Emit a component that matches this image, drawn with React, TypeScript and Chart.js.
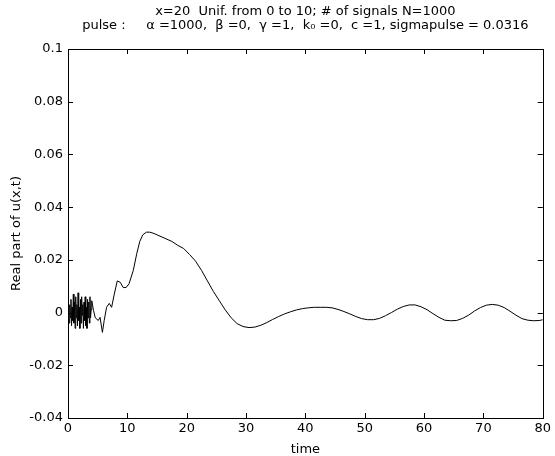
import React, { useEffect, useRef } from "react";
import { Chart, registerables } from "chart.js";

Chart.register(...registerables);

const titleLines = [
  "x=20  Unif. from 0 to 10; # of signals N=1000",
  "pulse :     \u03B1 =1000,  \u03B2 =0,  \u03B3 =1,  k\u2080 =0,  c =1, sigmapulse = 0.0316",
];
const xLabel = "time";
const yLabel = "Real part of u(x,t)";

const xTicks = [0, 10, 20, 30, 40, 50, 60, 70, 80];
const yTicks = [-0.04, -0.02, 0, 0.02, 0.04, 0.06, 0.08, 0.1];

// noisy start (t = 0 .. 3.9)
const noiseTime = [
  0, 0.1, 0.2, 0.3, 0.4, 0.5, 0.6, 0.7, 0.8, 0.9, 1.0, 1.1, 1.2, 1.3, 1.4, 1.5, 1.6, 1.7, 1.8, 1.9,
  2.0, 2.1, 2.2, 2.3, 2.4, 2.5, 2.6, 2.7, 2.8, 2.9, 3.0, 3.1, 3.2, 3.3, 3.4, 3.5, 3.6, 3.7, 3.8, 3.9,
];
const noiseValue = [
  0, 0.001, -0.004, 0.003, -0.002, 0.005, -0.005, 0.002, -0.003, 0.007, -0.004, 0.004, -0.006, 0.006,
  -0.002, 0.003, -0.005, 0.0075, -0.003, 0.002, -0.006, 0.005, -0.004, 0.006, -0.001, 0.003, -0.006,
  0.004, -0.003, 0.006, -0.005, 0.002, -0.006, 0.005, -0.002, 0.004, -0.004, 0.006, -0.002, 0.001,
];

// smooth part (t = 4 .. 80)
const smoothTime = [
  4.0, 4.3, 4.6, 5.1, 5.4, 5.8, 6.1, 6.5, 6.95, 7.35, 7.8, 8.3, 8.8, 9.3, 9.8, 10.3, 11.0, 11.6, 12.1,
  12.6, 13.2, 13.8, 14.5, 15.5, 16.5, 17.5, 18.5, 19.5, 20.5, 21.5, 22.5, 23.5, 24.5, 25.5, 26.5, 27.5,
  28.5, 29.5, 30.5, 31.5, 32.5, 33.5, 34.5, 35.5, 36.5, 37.5, 38.5, 39.5, 40.5, 41.5, 42.5, 43.5, 44.5,
  45.5, 46.5, 47.5, 48.5, 49.5, 50.5, 51.5, 52.5, 53.5, 54.5, 55.5, 56.5, 57.5, 58.5, 59.5, 60.5, 61.5,
  62.5, 63.5, 64.5, 65.5, 66.5, 67.5, 68.5, 69.5, 70.5, 71.5, 72.5, 73.5, 74.5, 75.5, 76.5, 77.5, 78.5,
  79.5, 80,
];
const smoothValue = [
  0.0045, 0.0008, -0.002, -0.003, -0.0018, -0.0075, -0.003, 0.002, 0.0035, 0.002, 0.007, 0.012, 0.0115,
  0.0095, 0.0095, 0.011, 0.016, 0.0225, 0.027, 0.0295, 0.0305, 0.0305, 0.03, 0.029, 0.028, 0.027,
  0.0255, 0.0243, 0.022, 0.0195, 0.016, 0.012, 0.008, 0.0045, 0.001, -0.002, -0.0042, -0.0053, -0.0057,
  -0.0055, -0.0048, -0.0038, -0.0026, -0.0015, -0.0005, 0.0003, 0.001, 0.0015, 0.0018, 0.002, 0.002,
  0.002, 0.0018, 0.0012, 0.0004, -0.0005, -0.0015, -0.0023, -0.0027, -0.0027, -0.0022, -0.0012, 0,
  0.0013, 0.0023, 0.0029, 0.0029, 0.0022, 0.0011, -0.0004, -0.0018, -0.0029, -0.0031, -0.003, -0.0022,
  -0.001, 0.0006, 0.0019, 0.0028, 0.0031, 0.0028, 0.0019, 0.0005, -0.001, -0.0023, -0.0029, -0.0031,
  -0.003, -0.0027,
];

const FONT = "'DejaVu Sans', 'Liberation Sans', Arial, sans-serif";
const FS = 13;

const insideTicks = {
  id: "insideTicks",
  afterDraw(chart: any) {
    const { ctx, chartArea } = chart;
    const { left, right, top, bottom } = chartArea;
    const len = 5;
    ctx.save();
    ctx.strokeStyle = "#000";
    ctx.lineWidth = 1;
    ctx.beginPath();
    const xs = chart.scales.x;
    xTicks.forEach((v) => {
      const p = Math.round(xs.getPixelForValue(v)) + 0.5;
      ctx.moveTo(p, bottom);
      ctx.lineTo(p, bottom - len);
      ctx.moveTo(p, top);
      ctx.lineTo(p, top + len);
    });
    const ys = chart.scales.y;
    yTicks.forEach((v) => {
      const p = Math.round(ys.getPixelForValue(v)) + 0.5;
      ctx.moveTo(left, p);
      ctx.lineTo(left + len, p);
      ctx.moveTo(right, p);
      ctx.lineTo(right - len, p);
    });
    ctx.stroke();
    ctx.strokeRect(Math.round(left) + 0.5, Math.round(top) + 0.5, Math.round(right - left), Math.round(bottom - top));
    ctx.restore();
  },
};

export default function App() {
  const ref = useRef<HTMLCanvasElement>(null);
  useEffect(() => {
    document.body.style.margin = "0";
    const points: { x: number; y: number }[] = [];
    noiseTime.forEach((t, i) => points.push({ x: t, y: noiseValue[i] }));
    smoothTime.forEach((t, i) => points.push({ x: t, y: smoothValue[i] }));
    const chart = new Chart(ref.current as HTMLCanvasElement, {
      type: "line",
      data: {
        datasets: [
          {
            data: points,
            borderColor: "#000",
            borderWidth: 1,
            pointRadius: 0,
            tension: 0,
            fill: false,
          },
        ],
      },
      options: {
        animation: false,
        responsive: false,
        devicePixelRatio: 1,
        layout: { padding: { left: 0, right: 9, top: 0, bottom: 0 } },
        plugins: {
          legend: { display: false },
          tooltip: { enabled: false },
          title: {
            display: true,
            text: titleLines,
            fullSize: false,
            color: "#000",
            font: { family: FONT, size: FS, weight: "normal", lineHeight: 1.05 },
            padding: { top: 5.2, bottom: 16.5 },
          },
        },
        scales: {
          x: {
            type: "linear",
            min: 0,
            max: 80,
            afterBuildTicks: (s: any) => {
              s.ticks = xTicks.map((v) => ({ value: v }));
            },
            afterFit: (s: any) => {
              s.height = 38;
            },
            ticks: {
              color: "#000",
              font: { family: FONT, size: FS, lineHeight: 1.05 },
              padding: 4,
              maxRotation: 0,
              callback: (v: any) => String(v),
            },
            grid: { display: false, drawTicks: false },
            border: { display: false },
            title: {
              display: true,
              text: xLabel,
              color: "#000",
              font: { family: FONT, size: FS, lineHeight: 1.05 },
              padding: { top: 1, bottom: 0 },
            },
          },
          y: {
            type: "linear",
            min: -0.04,
            max: 0.1,
            afterBuildTicks: (s: any) => {
              s.ticks = yTicks.map((v) => ({ value: v }));
            },
            afterFit: (s: any) => {
              s.width = 68;
            },
            ticks: {
              color: "#000",
              font: { family: FONT, size: FS },
              padding: 5,
              callback: (v: any) => String(Number(Number(v).toFixed(2)) || 0),
            },
            grid: { display: false, drawTicks: false },
            border: { display: false },
            title: {
              display: true,
              text: yLabel,
              color: "#000",
              font: { family: FONT, size: FS, lineHeight: 1.05 },
              padding: { top: 10, bottom: 0 },
            },
          },
        },
      },
      plugins: [insideTicks],
    } as any);
    return () => chart.destroy();
  }, []);
  return <canvas ref={ref} width={555} height={456} style={{ display: "block" }} />;
}
